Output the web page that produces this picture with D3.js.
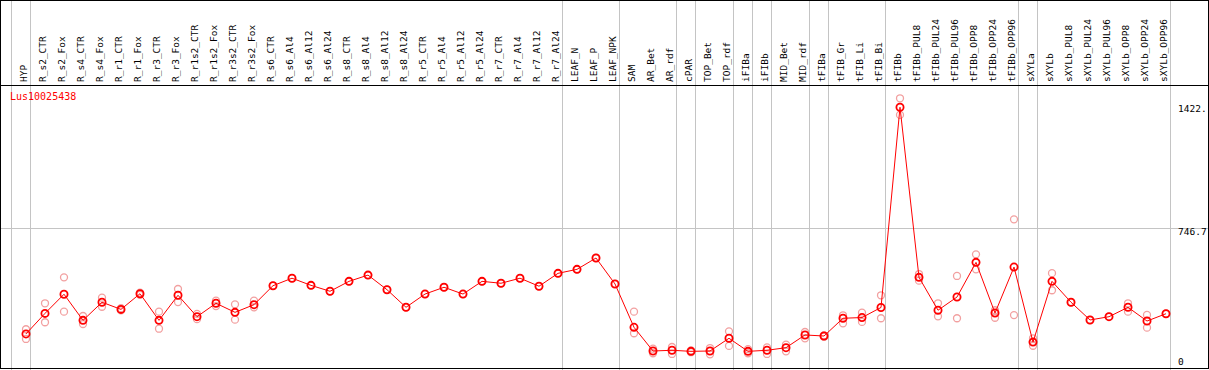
<!DOCTYPE html>
<html>
<head>
<meta charset="utf-8">
<script src="https://cdn.jsdelivr.net/npm/d3@7"></script>
<style>
  body { margin: 0; background: #fff; }
  svg { display: block; }
  text { font-family: "DejaVu Sans Mono", monospace; }
</style>
</head>
<body>
<script>
const width = 1209
const height = 370

const geneName = "Lus10025438"

const categories = [
  "HYP", "R_s2_CTR", "R_s2_Fox", "R_s4_CTR", "R_s4_Fox", "R_r1_CTR", "R_r1_Fox",
  "R_r3_CTR", "R_r3_Fox", "R_r1s2_CTR", "R_r1s2_Fox", "R_r3s2_CTR", "R_r3s2_Fox",
  "R_s6_CTR", "R_s6_Al4", "R_s6_Al12", "R_s6_Al24", "R_s8_CTR", "R_s8_Al4", "R_s8_Al12",
  "R_s8_Al24", "R_r5_CTR", "R_r5_Al4", "R_r5_Al12", "R_r5_Al24", "R_r7_CTR", "R_r7_Al4",
  "R_r7_Al12", "R_r7_Al24", "LEAF_N", "LEAF_P", "LEAF_NPK", "SAM", "AR_Bet", "AR_rdf",
  "cPAR", "TOP_Bet", "TOP_rdf", "iFIBa", "iFIBb", "MID_Bet", "MID_rdf", "tFIBa",
  "tFIB_Gr", "tFIB_Li", "tFIB_Bi", "tFIBb", "tFIBb_PUL8", "tFIBb_PUL24", "tFIBb_PUL96",
  "tFIBb_OPP8", "tFIBb_OPP24", "tFIBb_OPP96", "sXYLa", "sXYLb", "sXYLb_PUL8",
  "sXYLb_PUL24", "sXYLb_PUL96", "sXYLb_OPP8", "sXYLb_OPP24", "sXYLb_OPP96"
]

// sample groups, separated by grey lines
const groupSizes = [1, 28, 3, 3, 1, 2, 1, 1, 2, 1, 3, 7, 1, 7]

// mean expression per sample
const means = [
  140, 258, 368, 218, 322, 281, 371, 218, 362, 239, 316, 264, 308,
  417, 460, 419, 385, 442, 478, 394, 293, 369, 408, 369, 442, 431, 460, 414, 488,
  511, 576, 427, 178, 42, 46, 40, 42, 115, 40, 46, 61, 134, 128,
  230, 234, 292, 1442, 465, 276, 352, 551, 260, 524, 93, 442, 322, 220, 239, 293, 214, 256
]

// replicate values per sample
const replicates = [
  [167, 111], [316, 207], [465, 268], [243, 197], [348, 296], [275, 288], [365, 377],
  [268, 170], [398, 323], [255, 225], [331, 300], [310, 222], [331, 293],
  [417], [460], [419], [385], [442], [478], [394], [293], [369], [408], [369], [442],
  [431], [460], [414], [488], [511], [576], [427],
  [268, 144], [29, 55], [25, 65], [35, 45], [23, 59], [155, 71], [29, 53], [63, 25],
  [78, 40], [115, 151], [124, 132], [247, 201], [262, 209], [362, 230],
  [1493.4, 1398], [484, 446], [316, 241], [473, 230], [597, 511], [276, 233], [798, 248],
  [115, 72], [489, 391], [322], [220], [239], [316, 268], [249, 176], [256]
]

const yMax = 1493.4
const yTicks = [0, 746.7, 1422]
const yTickLabels = ["0", "746.7", "1422."]

const svg = d3.select("body").append("svg")
  .attr("width", width)
  .attr("height", height)

const x = d3.scalePoint()
  .domain(categories)
  .range([26, 1166])

const step = x.step()

const y = d3.scaleLinear()
  .domain([0, yMax])
  .range([358.3, 98.3])

const grid = svg.append("g")
  .attr("shape-rendering", "crispEdges")

// group separators
let idx = -1
const seps = [idx]
groupSizes.forEach(n => { idx += n; seps.push(idx) })

grid.selectAll("line.sep")
  .data(seps)
  .enter()
  .append("line")
  .attr("class", "sep")
  .attr("x1", d => Math.round(26 + d * step + 4) + 0.5)
  .attr("x2", d => Math.round(26 + d * step + 4) + 0.5)
  .attr("y1", 0)
  .attr("y2", height)
  .attr("stroke", "#c4c4c4")
  .attr("stroke-width", 1)

// mid value line
grid.append("line")
  .attr("x1", 0)
  .attr("x2", width)
  .attr("y1", Math.round(y(yTicks[1])) + 0.5)
  .attr("y2", Math.round(y(yTicks[1])) + 0.5)
  .attr("stroke", "#c4c4c4")

// header rule
grid.append("line")
  .attr("x1", 0)
  .attr("x2", width)
  .attr("y1", 85.5)
  .attr("y2", 85.5)
  .attr("stroke", "#000")

// frame
grid.append("rect")
  .attr("x", 0.5)
  .attr("y", 0.5)
  .attr("width", width - 1.5)
  .attr("height", 368)
  .attr("fill", "none")
  .attr("stroke", "#000")

// column labels
svg.selectAll("text.cat")
  .data(categories)
  .enter()
  .append("text")
  .attr("class", "cat")
  .attr("transform", d => `translate(${x(d) + 1},82) rotate(-90)`)
  .attr("font-size", "9.5px")
  .attr("fill", "#000")
  .text(d => d)

// y labels
svg.selectAll("text.ytick")
  .data(yTicks)
  .enter()
  .append("text")
  .attr("class", "ytick")
  .attr("x", 1178)
  .attr("y", (d, i) => i === yTicks.length - 1 ? y(yMax) + 14 : y(d) + 7)
  .attr("font-size", "9.5px")
  .attr("fill", "#000")
  .text((d, i) => yTickLabels[i])

// gene name
svg.append("text")
  .attr("x", 10)
  .attr("y", 100)
  .attr("font-size", "10px")
  .attr("fill", "#ff0000")
  .text(geneName)

// replicate circles
const repData = []
replicates.forEach((reps, i) => reps.forEach(v => repData.push({ c: categories[i], v })))

svg.selectAll("circle.rep")
  .data(repData)
  .enter()
  .append("circle")
  .attr("class", "rep")
  .attr("cx", d => x(d.c))
  .attr("cy", d => y(d.v))
  .attr("r", 3.5)
  .attr("fill", "none")
  .attr("stroke", "#f2a0a0")
  .attr("stroke-width", 1.3)

// mean line
const line = d3.line()
  .x((d, i) => x(categories[i]))
  .y(d => y(d))

svg.append("path")
  .attr("d", line(means))
  .attr("fill", "none")
  .attr("stroke", "#ff0000")
  .attr("stroke-width", 1)

svg.selectAll("circle.mean")
  .data(means)
  .enter()
  .append("circle")
  .attr("class", "mean")
  .attr("cx", (d, i) => x(categories[i]))
  .attr("cy", d => y(d))
  .attr("r", 3.6)
  .attr("fill", "none")
  .attr("stroke", "#ff0000")
  .attr("stroke-width", 1.8)
</script>
</body>
</html>
